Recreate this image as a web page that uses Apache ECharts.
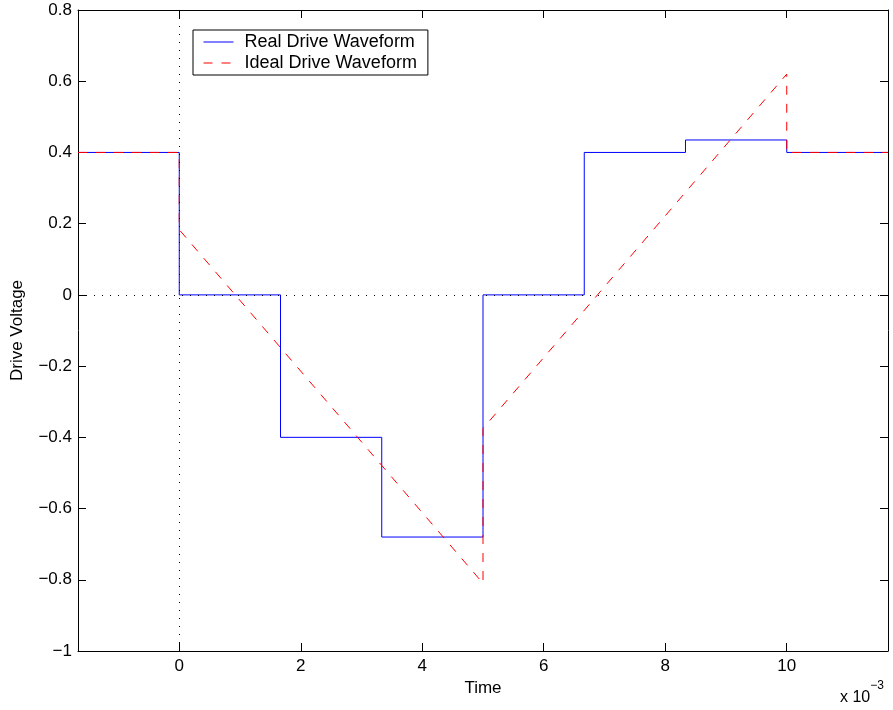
<!DOCTYPE html>
<html>
<head>
<meta charset="utf-8">
<script src="https://cdn.jsdelivr.net/npm/echarts@6/dist/echarts.min.js"></script>
<style>
  html, body { margin: 0; padding: 0; background: #fff; }
  #main { width: 893px; height: 710px; }
</style>
</head>
<body>
<div id="main"></div>
<script>
// time in units of 1e-3 s
var realT = [-1.6667, 0, 1.6667, 3.3333, 5, 6.6667, 8.3333, 10, 11.6667];
var realV = [0.4, 0, -0.4, -0.68, 0, 0.4, 0.435, 0.4, 0.4];
var idealT = [-1.6667, 0, 0, 5, 5, 10, 10, 11.6667];
var idealV = [0.4, 0.4, 0.183, -0.81, -0.375, 0.62, 0.4, 0.4];
var xTicks = [0, 2, 4, 6, 8, 10];

function pairs(t, v) {
	var out = [];
	for (var i = 0; i < t.length; i++) out.push([t[i], v[i]]);
	return out;
}
function fmtY(v) {
	var s = String(Math.round(v * 10) / 10);
	return s.replace('-', '\u2212');
}

var font = 'Liberation Sans, Arial, Helvetica, sans-serif';
var fs = 17;
var myChart = echarts.init(document.getElementById('main'));

var option = {
	animation: false,
	backgroundColor: '#fff',
	grid: { left: 78, right: 5, top: 10, bottom: 59 },
	legend: {
		left: 193, top: 30,
		orient: 'vertical',
		backgroundColor: '#fff',
		borderColor: '#000', borderWidth: 1, borderRadius: 0,
		padding: [3, 11, 3, 10],
		itemGap: 3, itemWidth: 30, itemHeight: 18,
		itemStyle: { opacity: 0 },
		lineStyle: { width: 1 },
		textStyle: { fontFamily: font, fontSize: 18, color: '#000', padding: [0, 0, 0, 6] },
		data: ['Real Drive Waveform', 'Ideal Drive Waveform']
	},
	xAxis: [{
		type: 'value', min: -1.6667, max: 11.6667,
		name: 'Time', nameLocation: 'middle', nameGap: 28,
		nameTextStyle: { fontFamily: font, fontSize: fs, color: '#000' },
		axisLine: { onZero: false, lineStyle: { color: '#000', width: 1 } },
		axisTick: { inside: true, length: 8, customValues: xTicks, lineStyle: { color: '#000' } },
		axisLabel: { customValues: xTicks, fontFamily: font, fontSize: fs, color: '#000', margin: 7 },
		splitLine: { show: false }
	}, {
		type: 'value', position: 'top', min: -1.6667, max: 11.6667,
		axisLine: { show: true, onZero: false, lineStyle: { color: '#000', width: 1 } },
		axisTick: { inside: true, length: 8, customValues: xTicks, lineStyle: { color: '#000' } },
		axisLabel: { show: false },
		splitLine: { show: false }
	}],
	yAxis: [{
		type: 'value', min: -1, max: 0.8, interval: 0.2,
		name: 'Drive Voltage', nameLocation: 'middle', nameGap: 52,
		nameTextStyle: { fontFamily: font, fontSize: fs, color: '#000' },
		axisLine: { show: true, onZero: false, lineStyle: { color: '#000', width: 1 } },
		axisTick: { show: true, inside: true, length: 8, lineStyle: { color: '#000' } },
		axisLabel: { formatter: fmtY, fontFamily: font, fontSize: fs, color: '#000', margin: 6 },
		splitLine: { show: false }
	}, {
		type: 'value', position: 'right', min: -1, max: 0.8, interval: 0.2,
		axisLine: { show: true, onZero: false, lineStyle: { color: '#000', width: 1 } },
		axisTick: { show: true, inside: true, length: 8, lineStyle: { color: '#000' } },
		axisLabel: { show: false },
		splitLine: { show: false }
	}],
	series: [{
		name: 'Real Drive Waveform',
		type: 'line', step: 'end',
		symbol: 'none',
		color: '#0000ff',
		lineStyle: { color: '#0000ff', width: 1 },
		data: pairs(realT, realV),
		markLine: {
			silent: true, symbol: 'none', label: { show: false },
			lineStyle: { color: '#000', width: 1, type: [1, 7] },
			data: [{ xAxis: 0 }, { yAxis: 0 }]
		},
		z: 3
	}, {
		name: 'Ideal Drive Waveform',
		type: 'line',
		symbol: 'none',
		color: '#ff0000',
		lineStyle: { color: '#ff0000', width: 1, type: [9, 9] },
		data: pairs(idealT, idealV),
		z: 4
	}],
	graphic: [{
		type: 'text', left: 840, top: 680,
		style: {
			text: '{a|x 10}{b|\u22123}',
			rich: {
				a: { fontFamily: font, fontSize: 16, fill: '#000', padding: [10, 0, 0, 0] },
				b: { fontFamily: font, fontSize: 12, fill: '#000', verticalAlign: 'top' }
			}
		}
	}]
};

myChart.setOption(option);
</script>
</body>
</html>
